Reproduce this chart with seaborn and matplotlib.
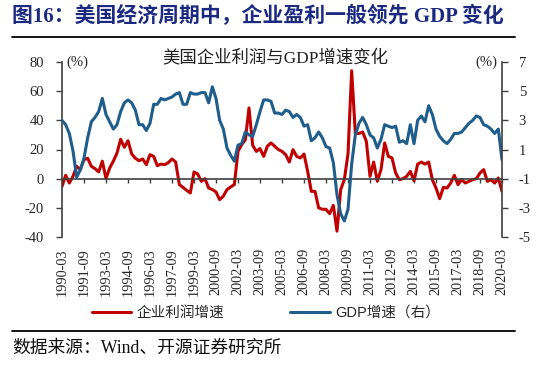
import numpy as np
import pandas as pd
import seaborn as sns
import matplotlib.pyplot as plt
from matplotlib.lines import Line2D

# 季度数据 1990-03 ~ 2020-03
profit = [-5.3, 2.3, -3, 1.6, 8.5, 6.2, 13, 14, 8.5, 6.9,
          4.6, 12, 0, 7.3, 12, 17.6, 27, 21.5, 26, 17,
          14, 12.3, 13.5, 9.6, 16.5, 15.3, 8.9, 10, 9.6, 11,
          13.5, 11.4, -4, -6, -8, -9.8, 4.6, 3.2, -1.8, 0,
          -6.4, -7.5, -9.1, -14.4, -12, -7.5, -5.7, -4, 18.7, 23.3,
          26.7, 48.5, 22.9, 18.7, 20.6, 15.3, 22.2, 24.5, 22.2, 20,
          18.7, 16.5, 11.4, 19.9, 15.3, 14.2, 16.9, 5, -8.7, -8.7,
          -20, -21, -21, -24, -18.3, -36, -7.5, -0.7, 17, 74,
          31, 31, 32, 25.6, 1.6, 11.4, -1.8, 6.2, 24.5, 15.3,
          14.2, 3.9, -0.7, 0, 1.6, 5, -1.4, 10, 11.4, 10,
          11.4, -0.7, -6.4, -13.7, -6, -6.4, -3, 2.3, -4.1, -0.7,
          -3, -1.8, -0.7, 0, 3.9, 6.2, -1.8, -0.7, -3, 0.5, -8.7]  # 企业利润增速
gdp = [3.0, 2.7, 2.1, 0.9, -0.9, -0.4, 0.4, 1.8, 2.9, 3.2,
       3.6, 4.5, 3.4, 2.9, 2.4, 2.7, 3.6, 4.2, 4.4, 4.2,
       3.7, 2.7, 2.7, 2.3, 2.8, 4.1, 4.1, 4.5, 4.4, 4.5,
       4.6, 4.8, 4.9, 4.1, 4.1, 4.9, 4.8, 4.8, 4.9, 4.9,
       4.2, 5.3, 4.5, 3.0, 2.4, 1.1, 0.6, 0.2, 1.3, 1.4,
       2.2, 2.0, 1.9, 2.7, 3.6, 4.4, 4.4, 4.3, 3.5, 3.5,
       3.4, 3.7, 3.6, 3.2, 3.4, 3.2, 2.6, 2.7, 1.6, 1.8,
       2.2, 1.8, 1.2, 1.1, 0.1, -2.1, -3.4, -3.9, -3.1, 0.0,
       2.0, 2.8, 3.2, 2.7, 2.0, 1.8, 1.1, 1.7, 2.7, 2.6,
       2.5, 2.6, 1.5, 1.6, 1.4, 2.7, 1.4, 3.0, 3.3, 2.9,
       4.0, 3.4, 2.4, 1.9, 1.6, 1.4, 1.7, 2.1, 2.1, 2.2,
       2.5, 2.8, 3.0, 3.3, 3.2, 2.7, 2.6, 2.4, 2.1, 2.4, 0.3]  # GDP增速
tick_labels = ['1990-03', '1991-09', '1993-03', '1994-09', '1996-03', '1997-09',
               '1999-03', '2000-09', '2002-03', '2003-09', '2005-03', '2006-09',
               '2008-03', '2009-09', '2011-03', '2012-09', '2014-03', '2015-09',
               '2017-03', '2018-09', '2020-03']
left_ticks = [-40, -20, 0, 20, 40, 60, 80]
right_ticks = [-5, -3, -1, 1, 3, 5, 7]

df = pd.DataFrame({'q': np.arange(len(profit)), 'profit': profit, 'gdp': gdp})

red = '#C00000'
blue = '#1F5E8C'
serif = ['Liberation Serif', 'Noto Sans CJK SC']
sans = ['Liberation Sans', 'Noto Sans CJK SC']

sns.set_style('white')
plt.rcParams['font.family'] = serif
plt.rcParams['axes.unicode_minus'] = False

fig = plt.figure(figsize=(5.5, 3.66), dpi=100)
ax = fig.add_axes([62 / 550, 1 - 237 / 366, 440 / 550, 175 / 366])
ax2 = ax.twinx()

sns.lineplot(data=df, x='q', y='profit', ax=ax, color=red, lw=2.2)
sns.lineplot(data=df, x='q', y='gdp', ax=ax2, color=blue, lw=2.2)

ax.set_xlim(0, len(profit) - 1)
ax.set_ylim(-40, 80)
ax2.set_ylim(-5, 7)
ax.set_yticks(left_ticks)
ax2.set_yticks(right_ticks)
ax.set_xticks(np.arange(0, len(profit), 6))
ax.set_xticklabels(tick_labels)
ax.set_xlabel('')
ax.set_ylabel('')
ax2.set_ylabel('')

axis_col = '#404040'
for a in (ax, ax2):
    for s in a.spines.values():
        s.set_color(axis_col)
        s.set_linewidth(1.2)
    a.spines['top'].set_visible(False)
ax.spines['right'].set_visible(False)
ax2.spines['left'].set_visible(False)
ax2.spines['bottom'].set_visible(False)
ax.spines['bottom'].set_position(('data', 0))

ax.tick_params(axis='y', direction='out', length=4, width=1, color=axis_col,
               labelsize=10.5, pad=9, left=True)
ax.tick_params(axis='x', direction='out', length=3, width=1, color=axis_col,
               labelsize=10.3, pad=47, bottom=True, labelrotation=90)
ax2.tick_params(axis='y', direction='out', length=4, width=1, color=axis_col,
                labelsize=10.5, pad=8, right=True)
ax2.grid(False)
ax.grid(False)

ax.text(0.01, 1.0, '(%)', transform=ax.transAxes, fontsize=10.5, va='center', ha='left')
ax2.text(0.99, 1.0, '(%)', transform=ax2.transAxes, fontsize=10.5, va='center', ha='right')

# 标题
fig.text(12 / 550, 1 - 16 / 366, '图16：美国经济周期中，企业盈利一般领先 GDP 变化',
         fontsize=15, fontweight='bold', color='#1B2A80', va='center', ha='left')
fig.add_artist(Line2D([12 / 550, 515 / 550], [1 - 37 / 366, 1 - 37 / 366],
                      color='black', lw=1.3, transform=fig.transFigure))
fig.text(275 / 550, 1 - 58 / 366, '美国企业利润与GDP增速变化', fontsize=12.5,
         color='#222222', ha='center', va='center')

handles = [Line2D([], [], color=red, lw=2.2), Line2D([], [], color=blue, lw=2.2)]
fig.legend(handles, ['企业利润增速', 'GDP增速（右）'], loc='center',
           bbox_to_anchor=(266 / 550, 1 - 313 / 366), ncol=2, frameon=False,
           prop={'family': sans, 'size': 10.5}, handlelength=2.7,
           handletextpad=0.4, columnspacing=4.5)

fig.add_artist(Line2D([12 / 550, 515 / 550], [1 - 331 / 366, 1 - 331 / 366],
                      color='black', lw=1.3, transform=fig.transFigure))
fig.text(12 / 550, 1 - 348 / 366, '数据来源：Wind、开源证券研究所', fontsize=12.8,
         color='#111111', ha='left', va='center')

fig.savefig('out.png', dpi=100)
